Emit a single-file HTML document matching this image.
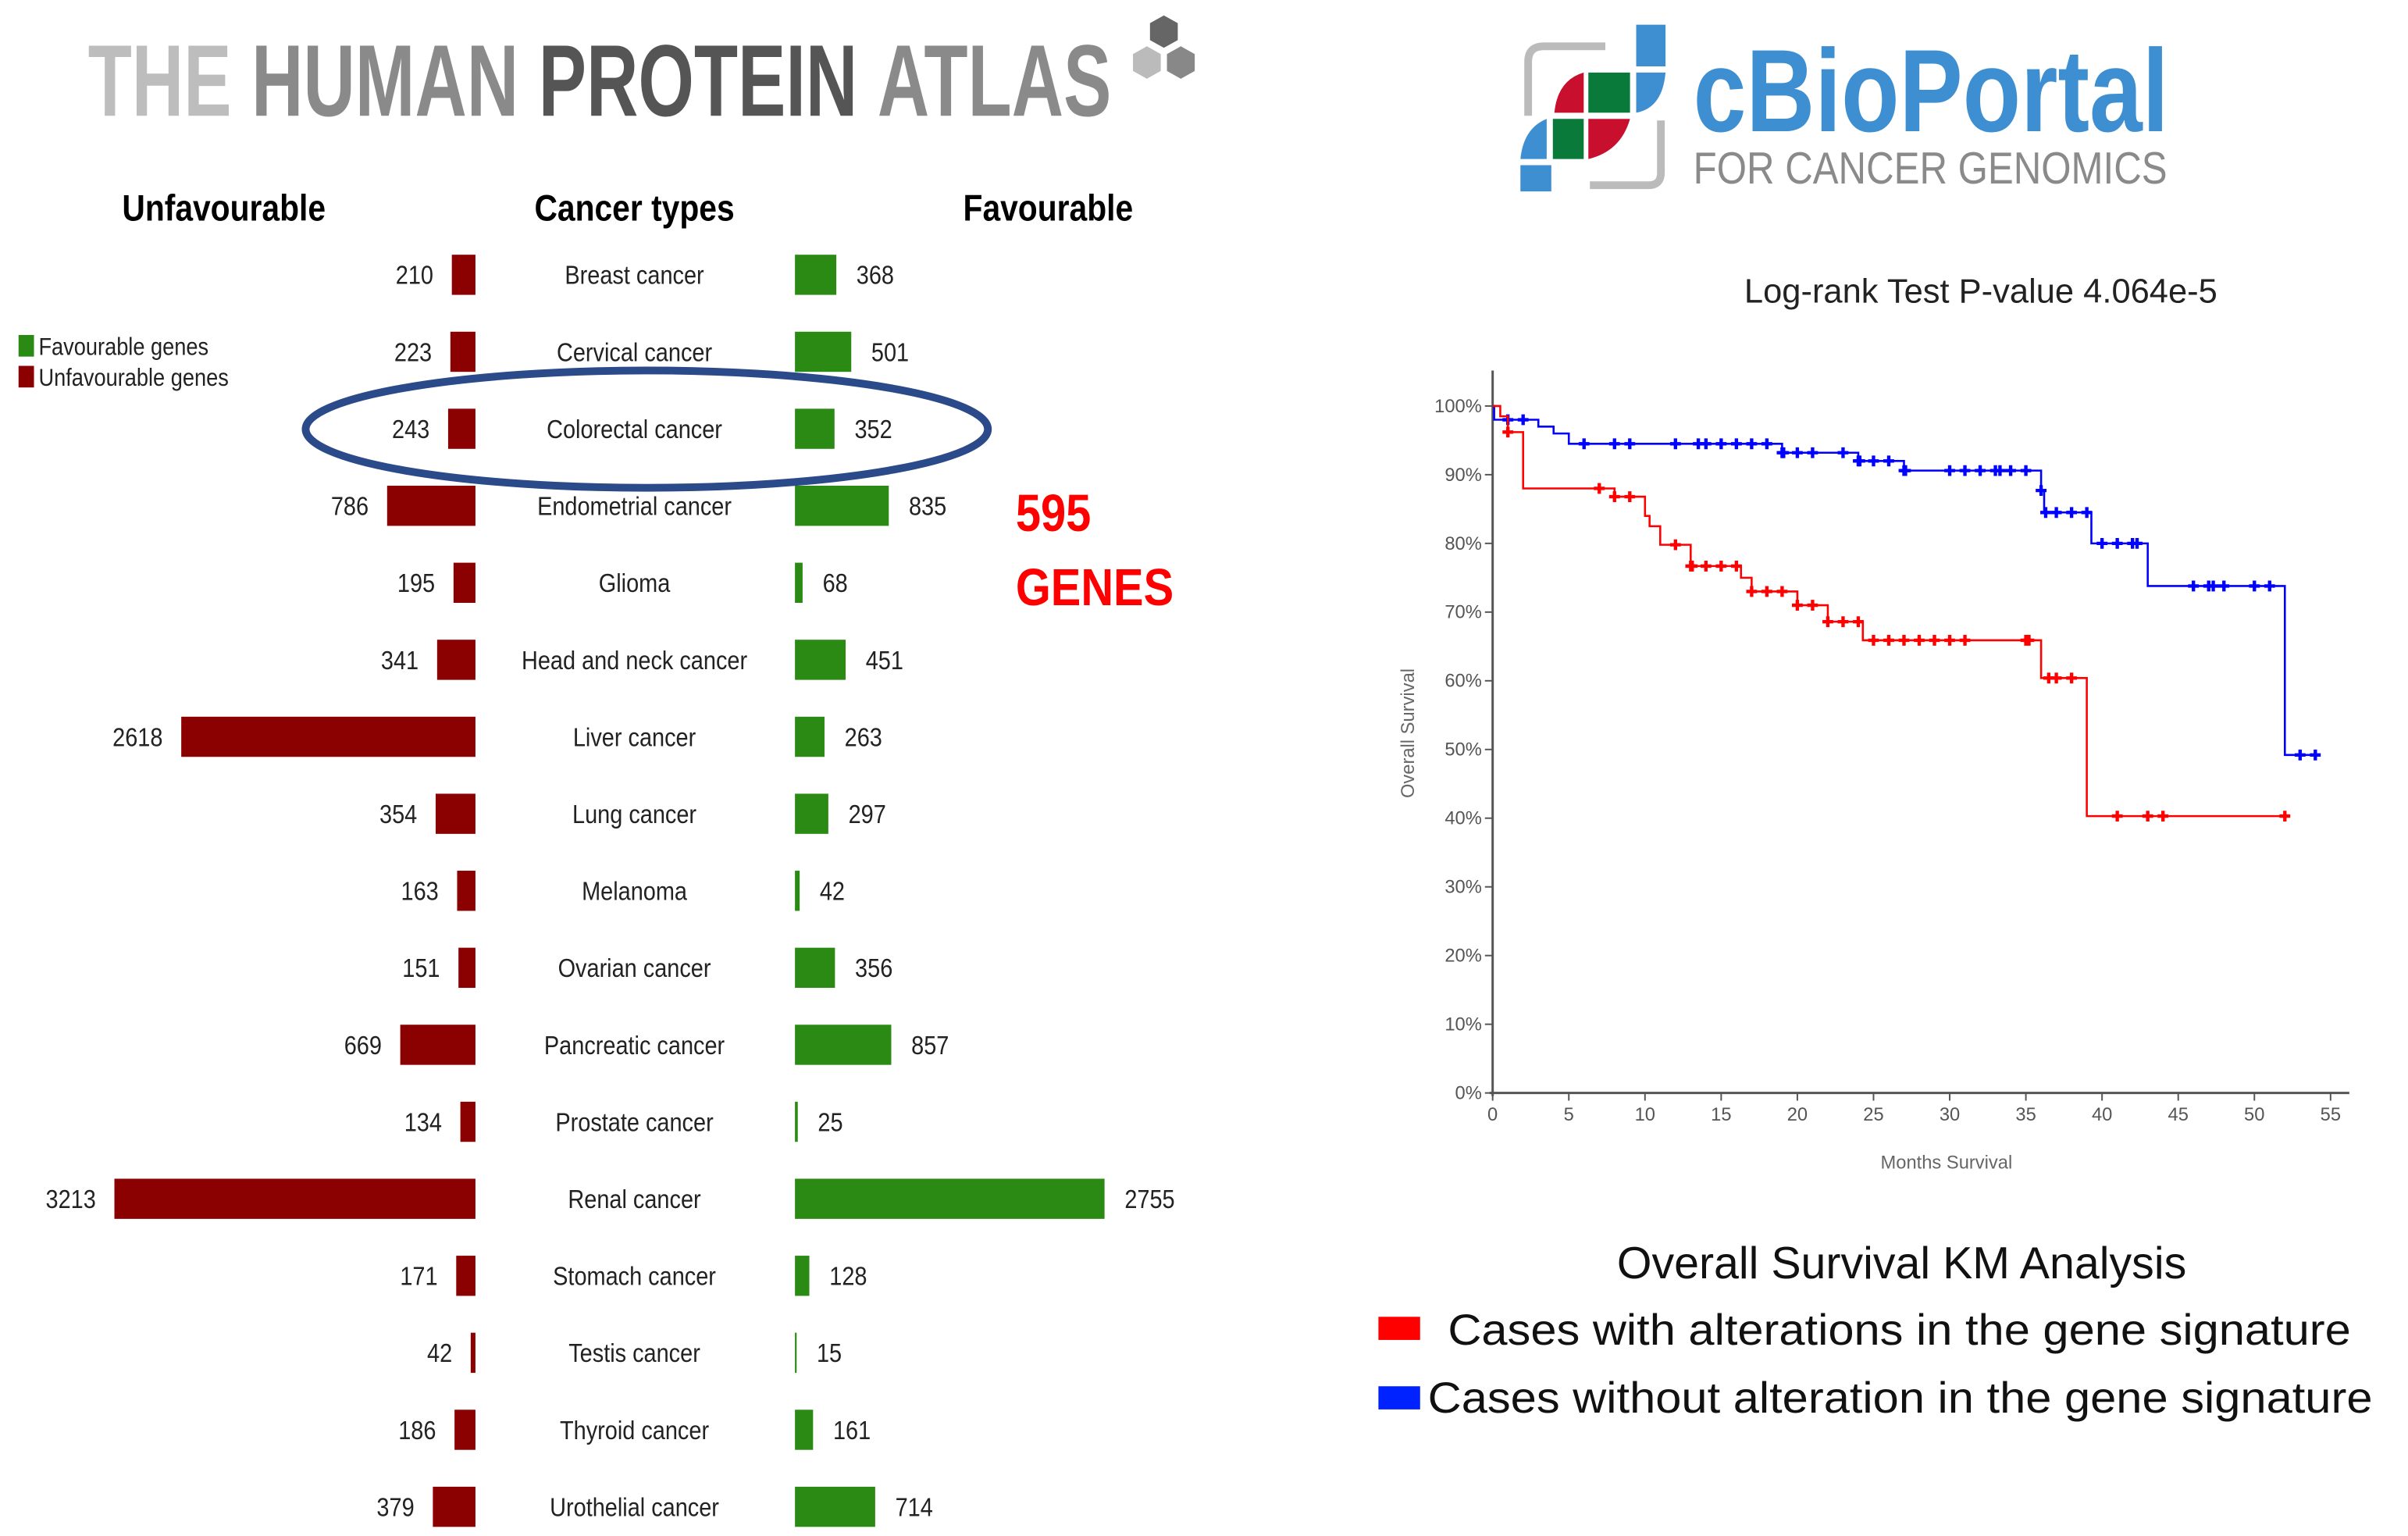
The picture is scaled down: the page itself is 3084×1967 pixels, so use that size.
<!DOCTYPE html>
<html><head><meta charset="utf-8"><style>
html,body{margin:0;padding:0;background:#fff;}
svg{display:block;}
text{font-family:"Liberation Sans",sans-serif;}
</style></head><body>
<svg id="root" width="3084" height="1967" viewBox="0 0 1560 995" xmlns="http://www.w3.org/2000/svg">
<rect width="1560" height="995" fill="#fff"/>
<g>
<text x="57" y="75" font-size="66" font-weight="bold" textLength="663" lengthAdjust="spacingAndGlyphs" fill="#888"><tspan fill="#bdbdbd">THE </tspan><tspan fill="#8a8a8a">HUMAN </tspan><tspan fill="#555">PROTEIN </tspan><tspan fill="#8a8a8a">ATLAS</tspan></text>
<polygon points="754,10 763,15 763,26 754,31 745,26 745,15" fill="#666"/>
<polygon points="743,30 752,35 752,46 743,51 734,46 734,35" fill="#bbb"/>
<polygon points="765,30 774,35 774,46 765,51 756,46 756,35" fill="#888"/>
</g>
<g>
<path d="M1040,30 L1000,30 Q990,30 990,40 L990,75" stroke="#bbb" stroke-width="5" fill="none"/>
<path d="M1030,120 L1068,120 Q1076,120 1076,112 L1076,78" stroke="#bbb" stroke-width="5" fill="none"/>
<rect x="1060" y="16" width="19" height="27" fill="#3d8fd1"/>
<path d="M1060,47 L1079,47 Q1077,70 1060,73 Z" fill="#3d8fd1"/>
<path d="M1026,47 L1026,73 L1007,73 Q1009,52 1026,47 Z" fill="#c8102e"/>
<rect x="1029" y="47" width="27" height="26" fill="#0a7a3a"/>
<rect x="1006" y="77" width="20" height="26" fill="#0a7a3a"/>
<path d="M1029,77 L1056,77 Q1050,98 1029,103 Z" fill="#c8102e"/>
<path d="M1002,77 L1002,103 L985,103 Q987,83 1002,77 Z" fill="#3d8fd1"/>
<rect x="985" y="107" width="20" height="17" fill="#3d8fd1"/>
<text x="1097" y="85" font-size="76" font-weight="bold" fill="#3d8fd1" textLength="308" lengthAdjust="spacingAndGlyphs">cBioPortal</text>
<text x="1097" y="119" font-size="29" fill="#8a8a8a" textLength="307" lengthAdjust="spacingAndGlyphs">FOR CANCER GENOMICS</text>
</g>
<g id="hpa"></g>
<g id="km"></g>
</svg>
<script>
const cancers=["Breast cancer","Cervical cancer","Colorectal cancer","Endometrial cancer","Glioma","Head and neck cancer","Liver cancer","Lung cancer","Melanoma","Ovarian cancer","Pancreatic cancer","Prostate cancer","Renal cancer","Stomach cancer","Testis cancer","Thyroid cancer","Urothelial cancer"];
const unfavourable=[210,223,243,786,195,341,2618,354,163,151,669,134,3213,171,42,186,379];
const favourable=[368,501,352,835,68,451,263,297,42,356,857,25,2755,128,15,161,714];
const yTicks=[0,10,20,30,40,50,60,70,80,90,100];
const xTicks=[0,5,10,15,20,25,30,35,40,45,50,55];
const blueTimes=[0,0.1,3,4,5,19,24,27,36,36.2,39.3,43,52,54];
const blueSurv=[100,98,97,96,94.5,93.2,92,90.6,87.7,84.5,80,73.8,49.2,49.2];
const blueCensor=[1,2,6,8,9,12,13.5,14,15,16,17,18,19,19.1,20,21,23,24,24.1,25,26,27,27.1,30,31,32,33,33.3,34,35,36,36.3,37,38,39,40,41,42,42.3,46,47,47.3,48,50,51,53,54];
const redTimes=[0,0.5,1,2,8,10,10.3,11,13,16.3,17,20,22,24.3,36,39,52];
const redSurv=[100,98.5,96.2,88,86.8,84,82.5,79.8,76.7,75,73,71,68.6,65.9,60.4,40.3,40.3];
const redCensor=[1,7,8,9,12,13,13.1,14,15,16,17,18,19,20,21,22,23,24,25,26,27,28,29,30,31,35,35.2,36.5,37,38,41,43,44,52];

const NS="http://www.w3.org/2000/svg";
function mk(tag,attrs,parent,txt){const e=document.createElementNS(NS,tag);for(const k in attrs)e.setAttribute(k,attrs[k]);if(txt!==undefined)e.textContent=txt;parent.appendChild(e);return e;}
const SX=0.86;
function ntext(x,y,size,anchor,txt,parent,extra){
  const a={x:0,y:0,'font-size':size,'text-anchor':anchor,fill:'#222',transform:`translate(${x},${y}) scale(${SX},1)`};
  for(const k in (extra||{}))a[k]=extra[k];
  return mk('text',a,parent,txt);
}

const hpa=document.getElementById('hpa');
const rowY=i=>178+i*49.88;
const bw=v=>v*0.0728;
let t;
t=ntext(145,143,24,'middle','Unfavourable',hpa,{'font-weight':'bold',fill:'#000'});

t=ntext(411,143,24,'middle','Cancer types',hpa,{'font-weight':'bold',fill:'#000'});

t=ntext(679,143,24,'middle','Favourable',hpa,{'font-weight':'bold',fill:'#000'});

t=mk('rect',{x:12,y:217,width:10,height:14,fill:'#2a8a14'},hpa);

t=ntext(25,230,16,'start','Favourable genes',hpa);

t=mk('rect',{x:12,y:237,width:10,height:14,fill:'#8b0000'},hpa);

t=ntext(25,250,16,'start','Unfavourable genes',hpa);

cancers.forEach((c,i)=>{
  const y=rowY(i);
  let e=mk('rect',{x:308-bw(unfavourable[i]),y:y-13,width:bw(unfavourable[i]),height:26,fill:'#8b0000'},hpa);
  
  e=ntext(308-bw(unfavourable[i])-12,y+6,17,'end',unfavourable[i],hpa);
  
  e=mk('rect',{x:515,y:y-13,width:bw(favourable[i]),height:26,fill:'#2a8a14'},hpa);
  
  e=ntext(515+bw(favourable[i])+13,y+6,17,'start',favourable[i],hpa);
  
  e=ntext(411,y+6,17,'middle',c,hpa);
  
});
t=mk('ellipse',{cx:419,cy:278,rx:221,ry:38,fill:'none',stroke:'#2a4a8a','stroke-width':5},hpa);

t=ntext(658,344,34,'start','595',hpa,{'font-weight':'bold',fill:'#f00'});

t=ntext(658,392,34,'start','GENES',hpa,{'font-weight':'bold',fill:'#f00'});


const km=document.getElementById('km');
const X=m=>967+m*9.87, Y=s=>708-s*4.45;
t=mk('text',{x:1130,y:196,'font-size':22,fill:'#222'},km,'Log-rank Test  P-value 4.064e-5');

t=mk('line',{x1:967,y1:240,x2:967,y2:710,stroke:'#555','stroke-width':1.5},km);

t=mk('line',{x1:965,y1:708,x2:1522,y2:708,stroke:'#555','stroke-width':1.5},km);

yTicks.forEach(v=>{
  let e=mk('line',{x1:962,y1:Y(v),x2:967,y2:Y(v),stroke:'#555'},km);
  
  e=mk('text',{x:960,y:Y(v)+4,'font-size':12,'text-anchor':'end',fill:'#555'},km,v+'%');
  
});
xTicks.forEach(v=>{
  let e=mk('line',{x1:X(v),y1:708,x2:X(v),y2:713,stroke:'#555'},km);
  
  e=mk('text',{x:X(v),y:726,'font-size':12,'text-anchor':'middle',fill:'#555'},km,v);
  
});
t=mk('text',{x:1261,y:757,'font-size':12,'text-anchor':'middle',fill:'#666'},km,'Months Survival');

t=mk('text',{x:0,y:0,'font-size':12,'text-anchor':'middle',fill:'#666',transform:'translate(916,475) rotate(-90)'},km,'Overall Survival');

function stepAt(times,surv,m){let s=surv[0];for(let i=0;i<times.length;i++){if(times[i]<=m)s=surv[i];}return s;}
function drawSeries(times,surv,censor,color,name){
  let d='M'+X(times[0])+','+Y(surv[0]);
  for(let i=1;i<times.length;i++){d+=' L'+X(times[i])+','+Y(surv[i-1])+' L'+X(times[i])+','+Y(surv[i]);}
  let e=mk('path',{d:d,fill:'none',stroke:color,'stroke-width':1.3},km);
  
  censor.forEach(m=>{
    const cx=X(m),cy=Y(stepAt(times,surv,m));
    const c=mk('path',{d:`M${cx-3.5},${cy} L${cx+3.5},${cy} M${cx},${cy-3.5} L${cx},${cy+3.5}`,stroke:color,'stroke-width':2.2},km);
    
  });
}
drawSeries(blueTimes,blueSurv,blueCensor,'#0000ff','unaltered');
drawSeries(redTimes,redSurv,redCensor,'#ff0000','altered');
t=mk('text',{x:1232,y:828,'font-size':29,'text-anchor':'middle',fill:'#111'},km,'Overall Survival KM Analysis');

t=mk('rect',{x:893,y:853,width:27,height:15,fill:'#ff0000'},km);

t=mk('text',{x:938,y:871,'font-size':28,fill:'#111',textLength:585,lengthAdjust:'spacingAndGlyphs'},km,'Cases with  alterations in the gene signature');

t=mk('rect',{x:893,y:898,width:27,height:15,fill:'#0022ff'},km);

t=mk('text',{x:925,y:915,'font-size':28,fill:'#111',textLength:612,lengthAdjust:'spacingAndGlyphs'},km,'Cases without  alteration in the gene signature');

</script>
</body></html>
